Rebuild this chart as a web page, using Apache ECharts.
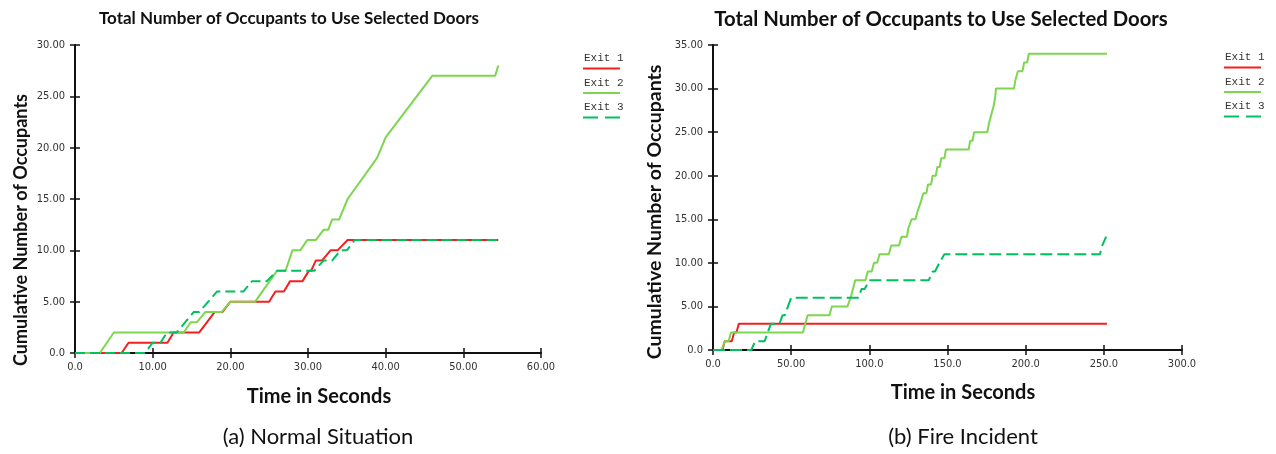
<!DOCTYPE html>
<html>
<head>
<meta charset="utf-8">
<script src="https://cdn.jsdelivr.net/npm/echarts@6/dist/echarts.min.js"></script>
<style>
html,body{margin:0;padding:0;background:#fff;}
#chart{width:1276px;height:454px;}
</style>
</head>
<body>
<div id="chart"></div>
<script>
// ---------- data ----------
const seriesNames = ['Exit 1', 'Exit 2', 'Exit 3'];

// (a) Normal Situation : [time (s), cumulative occupants]
const exit1A = [[0,0],[6,0],[6.9,1],[11.9,1],[12.7,2],[16,2],[18,4],[19,4],[20,5],[25,5],[25.8,6],[26.9,6],[27.7,7],[29.3,7],[30.1,8],[30.4,8],[31,9],[31.8,9],[32.9,10],[33.8,10],[35.1,11],[54.5,11]];
const exit2A = [[0,0],[3.2,0],[5,2],[14,2],[14.9,3],[15.7,3],[16.8,4],[18.9,4],[20,5],[23.2,5],[26,8],[27.1,8],[28,10],[29,10],[29.9,11],[31,11],[32,12],[32.6,12],[33.1,13],[34,13],[35.1,15],[38.9,19],[40,21],[42,23],[46,27],[54.1,27],[54.5,28]];
const exit3A = [[0,0],[9,0],[10,1],[11,1],[11.85,2],[13.1,2],[15.3,4],[16,4],[18.3,6],[21.7,6],[22.8,7],[24.7,7],[26,8],[30.8,8],[32,9],[33.1,9],[34.2,10],[35,10],[36,11],[54.5,11]];

// (b) Fire Incident
const exit1B = [[0,0],[6,0],[7.5,1],[12,1],[13.5,2],[15,2],[16.5,3],[252,3]];
const exit2B = [[0,0],[5.5,0],[7.5,1],[10,1],[11.5,2],[57.5,2],[60.5,4],[74.5,4],[76,5],[86,5],[88,6],[89.5,7],[91,8],[97.5,8],[99,9],[101.5,9],[103,10],[105,10],[106.5,11],[112.5,11],[114,12],[119,12],[120.5,13],[124,13],[125,14],[126,14],[127,15],[129.5,15],[131,16],[132,16],[133,17],[133.5,17],[134.5,18],[136.5,18],[137.5,19],[139.5,19],[140.5,20],[142.5,20],[143.5,21],[145,21],[146,22],[148,22],[149,23],[163.5,23],[164.5,24],[166,24],[167,25],[175.5,25],[176.5,26],[178,27],[179.5,28],[180.5,29],[181,30],[192.5,30],[193.5,31],[195,32],[198,32],[199,33],[201,33],[202,34],[252,34]];
const exit3B = [[0,0],[24.5,0],[27,1],[33,1],[35,2],[37,3],[42.5,3],[44.5,4],[46,4],[50,6],[93,6],[95,7],[97,7],[100,8],[138,8],[140.5,9],[142,9],[144.8,10],[146,10],[148,11],[247.5,11],[249,12],[250,12],[251.5,13]];

// tick labels
const xTicksA = ['0.0','10.00','20.00','30.00','40.00','50.00','60.00'];
const yTicksA = ['0.0','5.00','10.00','15.00','20.00','25.00','30.00'];
const xTicksB = ['0.0','50.00','100.0','150.0','200.0','250.0','300.0'];
const yTicksB = ['0.0','5.00','10.00','15.00','20.00','25.00','30.00','35.00'];

// ---------- styling ----------
const colors = ['#f2201e', '#7dd64f', '#00c060'];
const tickFont = '"Liberation Sans Narrow","DejaVu Sans Condensed","Liberation Sans",sans-serif';
const titleFont = 'Lato, "Open Sans", sans-serif';

function axisPair(gridIndex, min, max, interval, labels, isX) {
  const base = {
    type: 'value', gridIndex, min, max, interval,
    splitLine: {show: false},
  };
  const main = Object.assign({}, base, {
    axisLine: {show: true, onZero: false, lineStyle: {color: '#111', width: 2}},
    axisTick: {show: true, inside: false, length: 5, lineStyle: {color: '#111', width: 1.5}},
    axisLabel: {
      show: true, color: '#333', fontSize: 11, fontFamily: tickFont, margin: isX ? 9 : 10,
      formatter: v => labels[Math.round((v - min) / interval)]
    }
  });
  const inner = Object.assign({}, base, {
    axisLine: {show: false},
    axisTick: {show: true, inside: true, length: 5, lineStyle: {color: '#111', width: 1.5}},
    axisLabel: {show: false}
  });
  if (isX) { main.position = 'bottom'; inner.position = 'bottom'; }
  else { main.position = 'left'; inner.position = 'left'; }
  return [main, inner];
}

function legendFor(left, top) {
  return {
    orient: 'vertical', left, top, icon: 'none', itemWidth: 0, itemHeight: 0, itemGap: 3,
    padding: 0,
    selectedMode: false,
    data: seriesNames,
    textStyle: {
      rich: {
        t: {fontFamily: '"Liberation Mono","DejaVu Sans Mono",monospace', fontSize: 11, color: '#333', lineHeight: 13, padding: [0,0,0,1]},
        l1: {width: 37, height: 2, backgroundColor: colors[0], lineHeight: 7},
        l2: {width: 37, height: 2, backgroundColor: colors[1], lineHeight: 7},
        d3: {width: 15, height: 2, backgroundColor: colors[2], lineHeight: 7},
        g: {width: 7, height: 2, lineHeight: 7}
      }
    },
    formatter: name => {
      const i = seriesNames.indexOf(name);
      if (i === 0) return '{t|' + name + '}\n{l1| }';
      if (i === 1) return '{t|' + name + '}\n{l2| }';
      return '{t|' + name + '}\n{d3| }{g| }{d3| }';
    }
  };
}

function mkSeries(name, data, xIdx, yIdx, colorIdx, dashed) {
  return {
    name, type: 'line', data, xAxisIndex: xIdx, yAxisIndex: yIdx,
    showSymbol: false, symbol: 'none', animation: false,
    color: colors[colorIdx],
    lineStyle: {color: colors[colorIdx], width: 2, type: dashed ? dashed : 'solid'}
  };
}

const xa = axisPair(0, 0, 60, 10, xTicksA, true);
const xb = axisPair(1, 0, 300, 50, xTicksB, true);
const ya = axisPair(0, 0, 30, 5, yTicksA, false);
const yb = axisPair(1, 0, 35, 5, yTicksB, false);

const option = {
  backgroundColor: '#fff',
  animation: false,
  grid: [
    {left: 75, top: 45, width: 466, height: 308},
    {left: 713, top: 45, width: 469, height: 305}
  ],
  xAxis: [xa[0], xa[1], xb[0], xb[1]],
  yAxis: [ya[0], ya[1], yb[0], yb[1]],
  legend: [legendFor(578, 53), legendFor(1219, 52)],
  series: [
    mkSeries('Exit 1', exit1A, 0, 0, 0),
    mkSeries('Exit 2', exit2A, 0, 0, 1),
    mkSeries('Exit 3', exit3A, 0, 0, 2, [10, 5]),
    mkSeries('Exit 1', exit1B, 2, 2, 0),
    mkSeries('Exit 2', exit2B, 2, 2, 1),
    mkSeries('Exit 3', exit3B, 2, 2, 2, [12, 5])
  ],
  graphic: [
    {type: 'text', x: 289, y: 19, style: {text: 'Total Number of Occupants to Use Selected Doors', fontFamily: titleFont, fontWeight: 'bold', fontSize: 17, fill: '#111', align: 'center', verticalAlign: 'middle'}},
    {type: 'text', x: 941, y: 19, style: {text: 'Total Number of Occupants to Use Selected Doors', fontFamily: titleFont, fontWeight: 'bold', fontSize: 20.3, fill: '#111', align: 'center', verticalAlign: 'middle'}},
    {type: 'text', x: 21, y: 230, rotation: Math.PI / 2, style: {text: 'Cumulative Number of Occupants', fontFamily: titleFont, fontWeight: 'bold', fontSize: 18, fill: '#111', align: 'center', verticalAlign: 'middle'}},
    {type: 'text', x: 655, y: 212, rotation: Math.PI / 2, style: {text: 'Cumulative Number of Occupants', fontFamily: titleFont, fontWeight: 'bold', fontSize: 19.5, fill: '#111', align: 'center', verticalAlign: 'middle'}},
    {type: 'text', x: 319, y: 397, style: {text: 'Time in Seconds', fontFamily: titleFont, fontWeight: 'bold', fontSize: 20, fill: '#111', align: 'center', verticalAlign: 'middle'}},
    {type: 'text', x: 963, y: 393, style: {text: 'Time in Seconds', fontFamily: titleFont, fontWeight: 'bold', fontSize: 20, fill: '#111', align: 'center', verticalAlign: 'middle'}},
    {type: 'text', x: 318, y: 437, style: {text: '(a) Normal Situation', fontFamily: titleFont, fontSize: 22, fill: '#111', align: 'center', verticalAlign: 'middle'}},
    {type: 'text', x: 963, y: 437, style: {text: '(b) Fire Incident', fontFamily: titleFont, fontSize: 22, fill: '#111', align: 'center', verticalAlign: 'middle'}}
  ]
};

const chart = echarts.init(document.getElementById('chart'), null, {renderer: 'canvas'});
chart.setOption(option);
</script>
</body>
</html>
